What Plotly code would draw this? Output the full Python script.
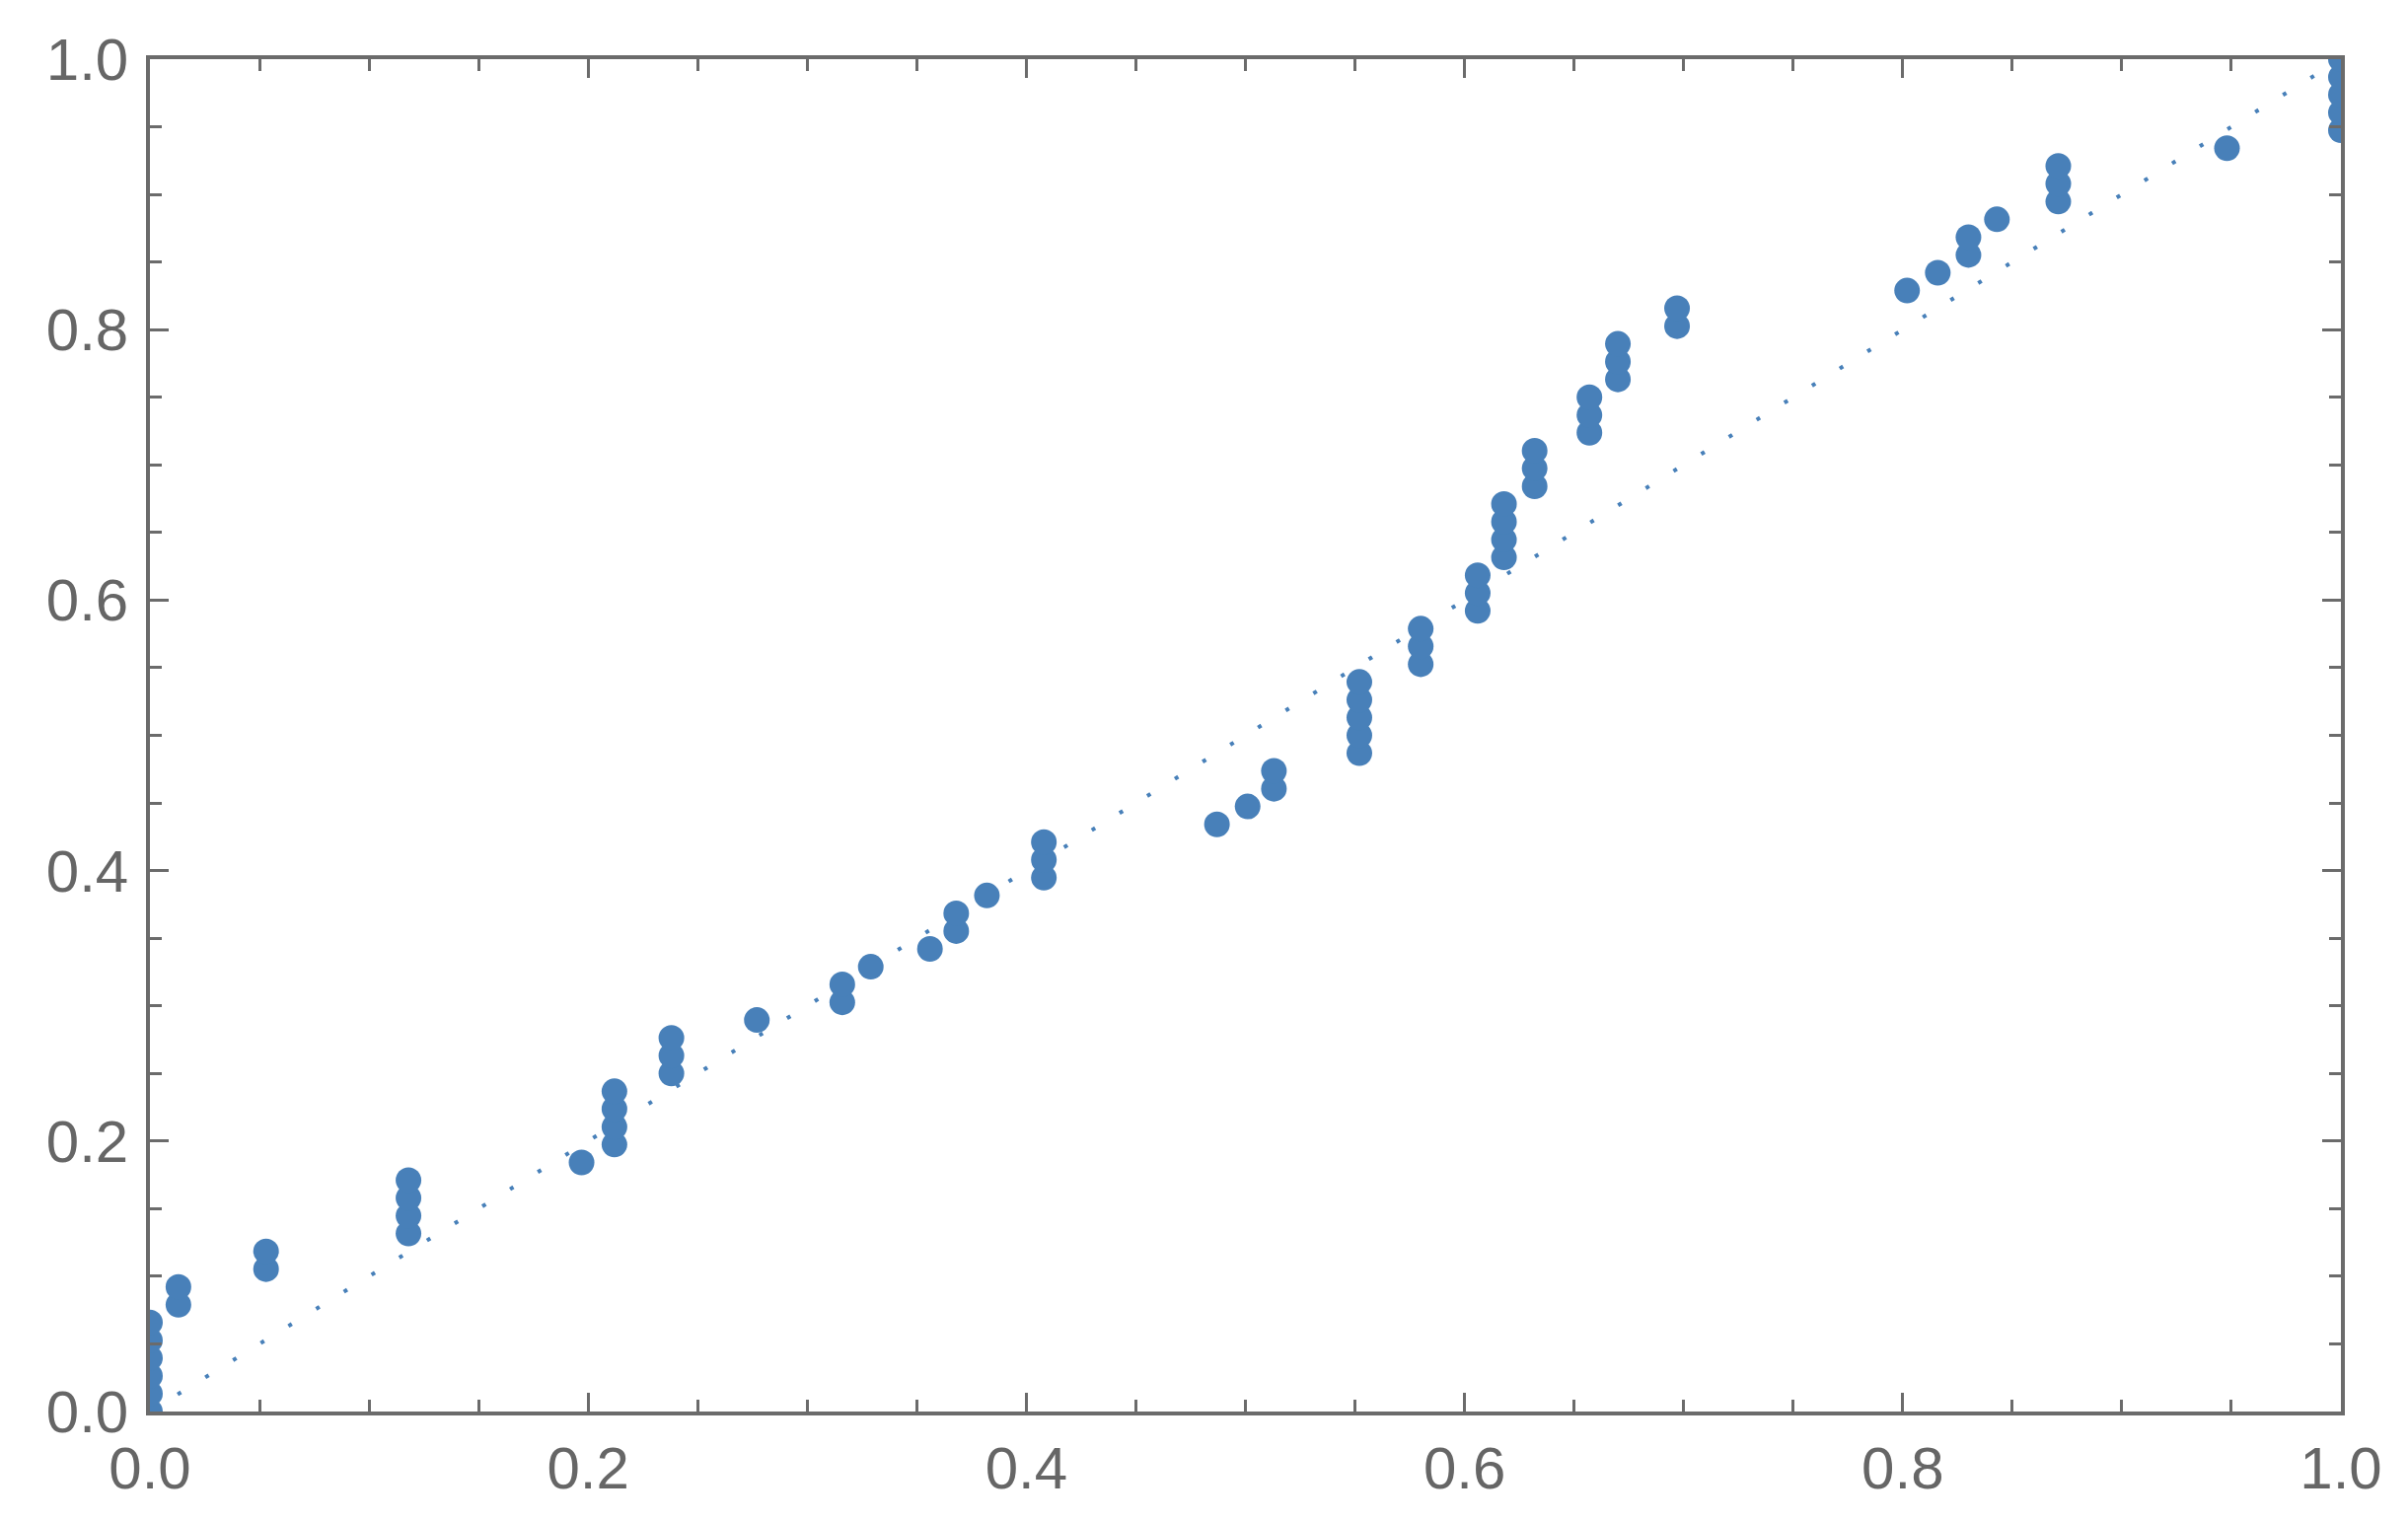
import plotly.graph_objects as go

x_vals = [
    0.0, 0.0, 0.0, 0.0, 0.0, 0.0,
    0.013, 0.013,
    0.053, 0.053,
    0.118, 0.118, 0.118, 0.118,
    0.197,
    0.212, 0.212, 0.212, 0.212,
    0.238, 0.238, 0.238,
    0.277,
    0.316, 0.316,
    0.329,
    0.356,
    0.368, 0.368,
    0.382,
    0.408, 0.408, 0.408,
    0.487,
    0.501,
    0.513, 0.513,
    0.552, 0.552, 0.552, 0.552, 0.552,
    0.580, 0.580, 0.580,
    0.606, 0.606, 0.606,
    0.618, 0.618, 0.618, 0.618,
    0.632, 0.632, 0.632,
    0.657, 0.657, 0.657,
    0.670, 0.670, 0.670,
    0.697, 0.697,
    0.802,
    0.816,
    0.830, 0.830,
    0.843,
    0.871, 0.871, 0.871,
    0.948,
    1.0, 1.0, 1.0, 1.0, 1.0,
]
y_vals = [
    0.0, 0.0132, 0.0263, 0.0395, 0.0526, 0.0658,
    0.0789, 0.0921,
    0.1053, 0.1184,
    0.1316, 0.1447, 0.1579, 0.1711,
    0.1842,
    0.1974, 0.2105, 0.2237, 0.2368,
    0.2500, 0.2632, 0.2763,
    0.2895,
    0.3026, 0.3158,
    0.3289,
    0.3421,
    0.3553, 0.3684,
    0.3816,
    0.3947, 0.4079, 0.4211,
    0.4342,
    0.4474,
    0.4605, 0.4737,
    0.4868, 0.5000, 0.5132, 0.5263, 0.5395,
    0.5526, 0.5658, 0.5789,
    0.5921, 0.6053, 0.6184,
    0.6316, 0.6447, 0.6579, 0.6711,
    0.6842, 0.6974, 0.7105,
    0.7237, 0.7368, 0.7500,
    0.7632, 0.7763, 0.7895,
    0.8026, 0.8158,
    0.8289,
    0.8421,
    0.8553, 0.8684,
    0.8816,
    0.8947, 0.9079, 0.9211,
    0.9342,
    0.9474, 0.9605, 0.9737, 0.9868, 1.0,
]

# Reference diagonal y = x
ref_x = [0.0, 1.0]
ref_y = [0.0, 1.0]

tick_vals = [0.0, 0.2, 0.4, 0.6, 0.8, 1.0]
tick_text = ["0.0", "0.2", "0.4", "0.6", "0.8", "1.0"]

BLUE = "rgb(72,128,185)"
FRAME = "#6b6b6b"
LABEL = "#666666"

fig = go.Figure()
fig.add_trace(go.Scatter(
    x=ref_x, y=ref_y, mode="lines",
    line=dict(color=BLUE, width=4, dash="4px,29px"),
    hoverinfo="skip", showlegend=False,
))
fig.add_trace(go.Scatter(
    x=x_vals, y=y_vals, mode="markers",
    marker=dict(color=BLUE, size=26, line=dict(width=0)),
    showlegend=False,
))

axis_common = dict(
    range=[0, 1],
    showgrid=False,
    zeroline=False,
    showline=True,
    linecolor=FRAME,
    linewidth=3.5,
    mirror="ticks",
    ticks="inside",
    ticklen=19,
    tickwidth=3,
    tickcolor=FRAME,
    tickvals=tick_vals,
    ticktext=tick_text,
    tickfont=dict(family="Liberation Sans, Arial, sans-serif", size=60, color=LABEL),
    minor=dict(dtick=0.05, tick0=0, ticks="inside", ticklen=12, tickwidth=3,
               tickcolor=FRAME, showgrid=False),
)

fig.update_xaxes(**axis_common, ticklabelstandoff=2)
fig.update_yaxes(**axis_common, ticklabelstandoff=6)

# The page body has an 8px default margin, so the figure is 16px smaller
fig.update_layout(
    width=2425, height=1526,
    margin=dict(l=144, r=60, t=52, b=103, pad=0),
    paper_bgcolor="white",
    plot_bgcolor="white",
)

fig.write_html("out.html")
